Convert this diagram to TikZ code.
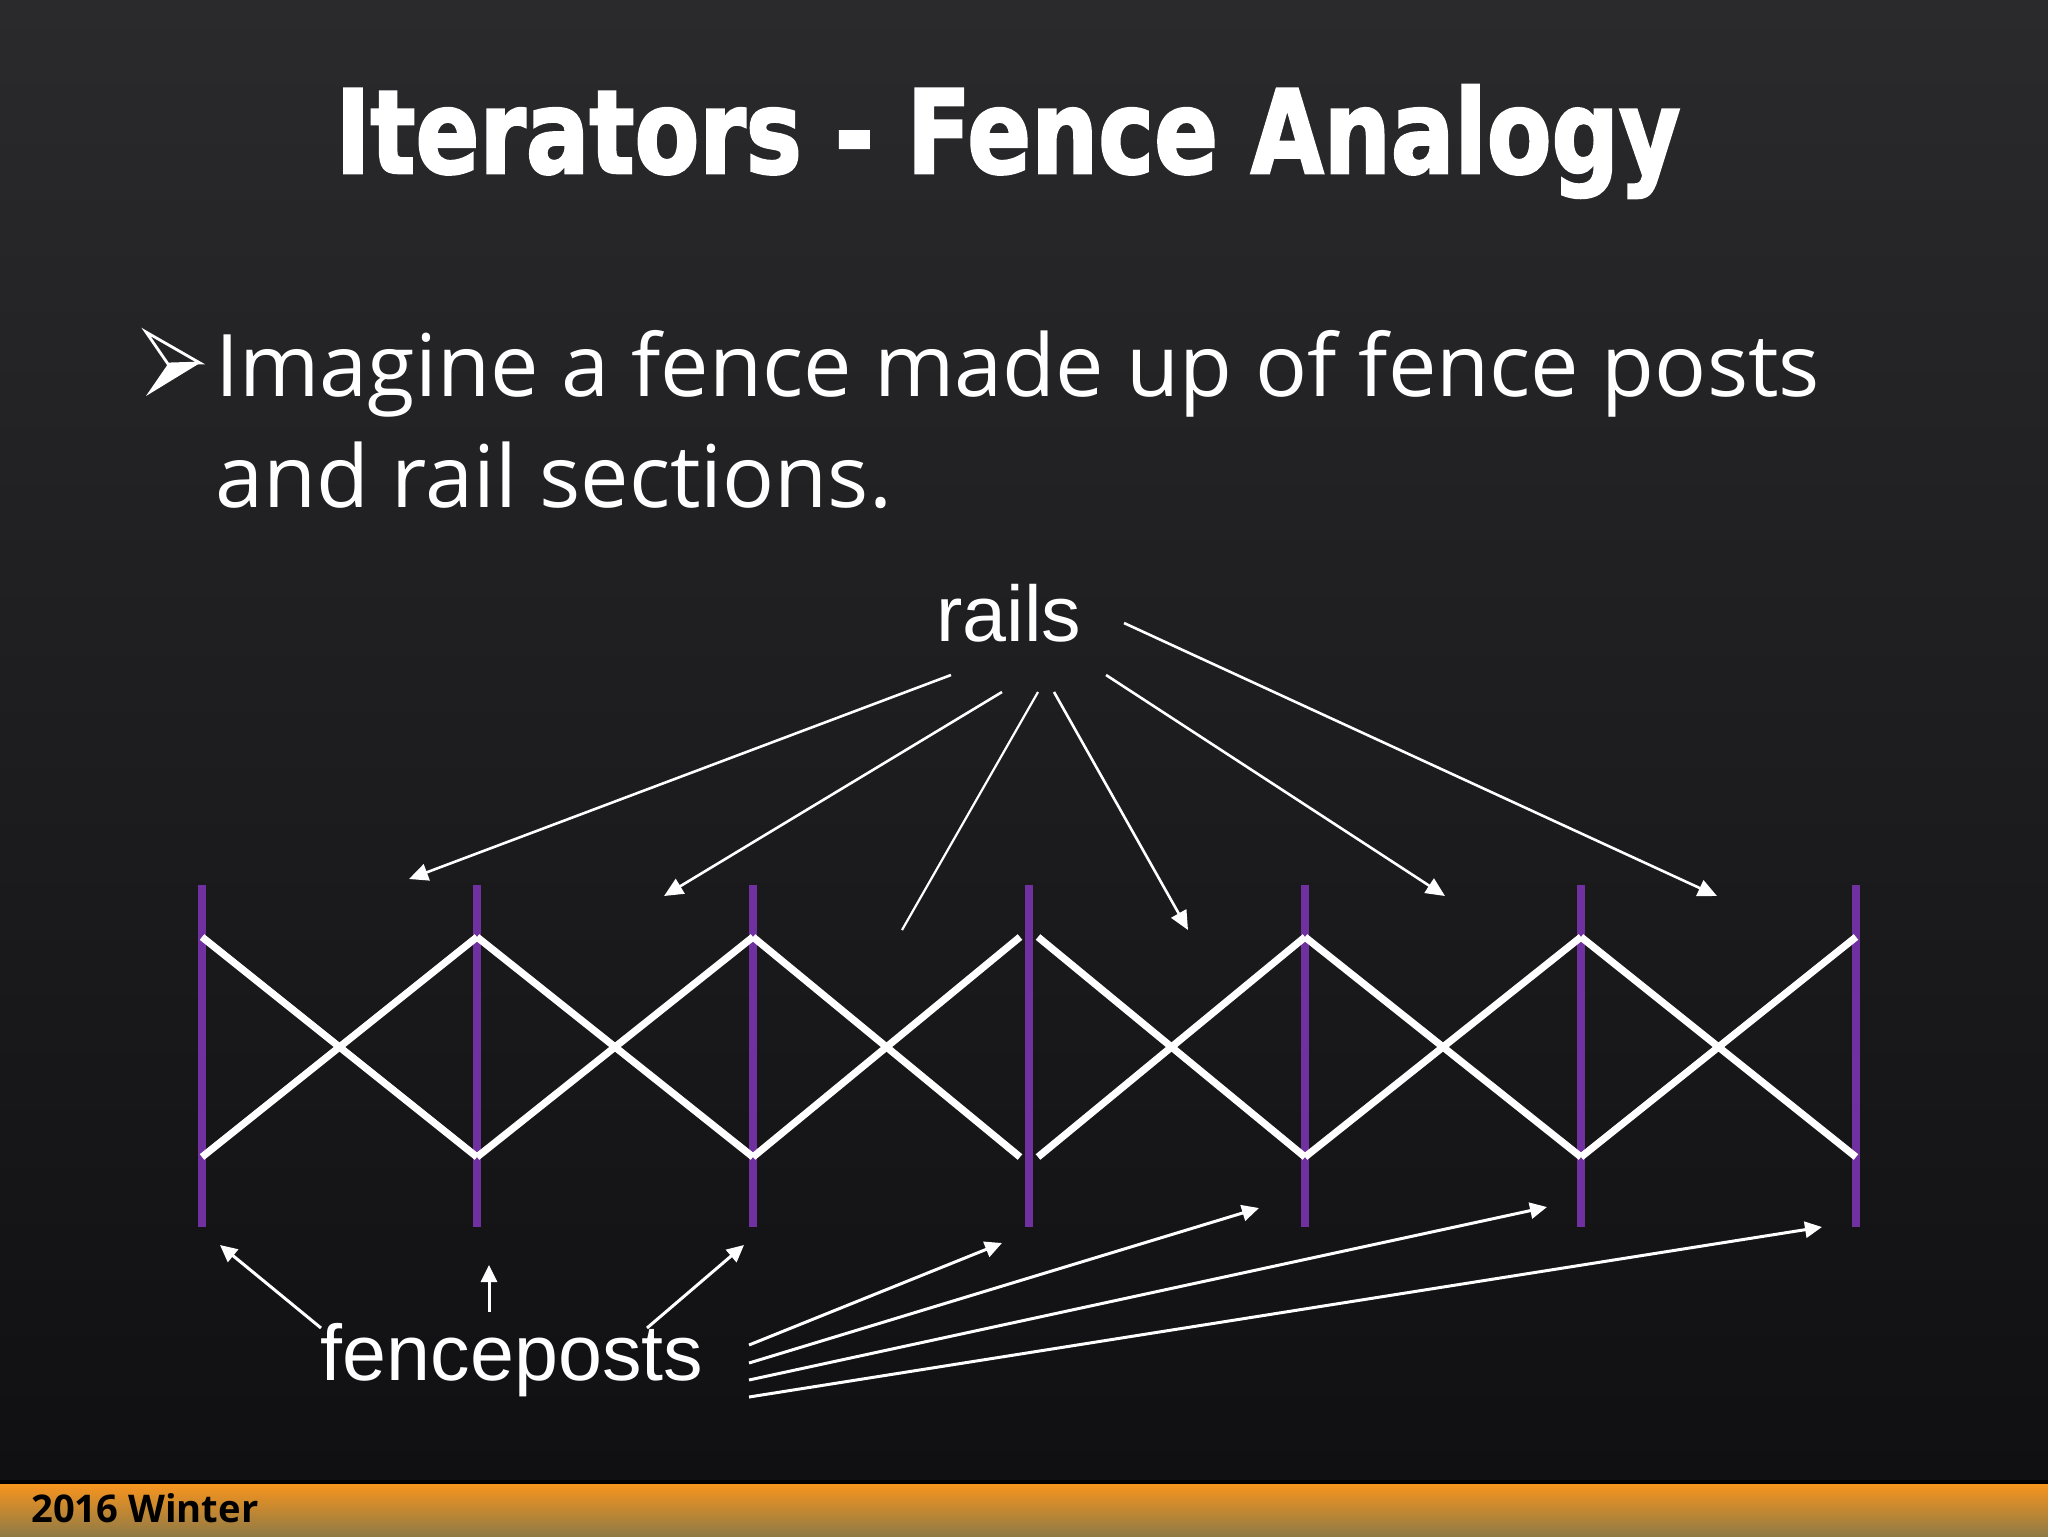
\documentclass[tikz,border=0pt]{standalone}
\usepackage{fontspec}
\usepackage{graphicx}
\usetikzlibrary{arrows.meta}
\newfontfamily\titlefont[BoldFont={DejaVu Sans Bold}, BoldFeatures={FakeBold=2.2}]{DejaVu Sans}
\newfontfamily\bodyfont{Open Sans}
\newfontfamily\labelfont{Liberation Sans}
\definecolor{bgtop}{HTML}{2A2A2D}
\definecolor{bgbot}{HTML}{0F0F12}
\definecolor{postpurple}{HTML}{7030A0}
\definecolor{barorange}{HTML}{F7941E}
\definecolor{barbrown}{HTML}{8F7A46}
\tikzset{
  fencepost/.style={postpurple, line width=4pt},
  railbar/.style={white, line width=3.6pt},
  railptr/.style={white, line width=1.3pt, -{Triangle[length=9.5pt,width=8.5pt]}},
  postptr/.style={white, line width=1.5pt, -{Triangle[length=8.5pt,width=8pt]}},
  biglabel/.style={white, font=\labelfont\fontsize{39.5}{45}\selectfont, inner sep=0pt, anchor=base},
  bodytext/.style={white, font=\bodyfont\fontsize{43.2}{50}\selectfont, inner sep=0pt, anchor=base west},
}
\begin{document}
\begin{tikzpicture}[x=0.5pt,y=-0.5pt]
\useasboundingbox (0,0) rectangle (2048,1536);
\shade[top color=bgtop, bottom color=bgbot] (0,0) rectangle (2048,1536);

% title
\node (title)[anchor=base west, inner sep=0pt, text=white] at (335,173)
  {\resizebox{672.5pt}{44pt}{\titlefont\bfseries Iterators - Fence Analogy}};

% bullet
\coordinate (btop) at (146,332);
\coordinate (btip) at (200,363);
\coordinate (bin) at (168,364);
\coordinate (bbot) at (146,396);
\draw[white, line width=1.4pt, line join=miter] (btop) -- (btip) -- (bin) -- cycle;
\fill[white] (bin) -- (btip) -- (bbot) -- cycle;
\node (line1)[bodytext] at (215,396) {Imagine a fence made up of fence posts};
\node (line2)[bodytext] at (215,507) {and rail sections.};

% fence posts
\foreach \i/\x in {1/202,2/477,3/753,4/1029,5/1305,6/1581,7/1856}{
  \coordinate (pt\i) at (\x,885);
  \coordinate (pb\i) at (\x,1227);
  \coordinate (rt\i) at (\x,937);
  \coordinate (rb\i) at (\x,1157);
  \draw[fencepost] (pt\i) -- (pb\i);
}
% rails
\foreach \a/\b in {1/2,2/3,5/6,6/7}{
  \draw[railbar] (rt\a) -- (rb\b);
  \draw[railbar] (rb\a) -- (rt\b);
}
\draw[railbar] (rt3) -- (1020,1157);
\draw[railbar] (rb3) -- (1020,937);
\draw[railbar] (1038,937) -- (rb5);
\draw[railbar] (1038,1157) -- (rt5);

% labels
\node (rails)[biglabel] at (1009,641) {rails};
\node (fenceposts)[biglabel] at (512,1380) {fenceposts};

% rails pointers
\coordinate (ra1) at (951,675);  \coordinate (re1) at (409,879);
\coordinate (ra2) at (1002,692); \coordinate (re2) at (664,896);
\coordinate (ra3) at (1038,692); \coordinate (re3) at (902,930);
\coordinate (ra4) at (1054,692); \coordinate (re4) at (1188,930);
\coordinate (ra5) at (1106,675); \coordinate (re5) at (1445,896);
\coordinate (ra6) at (1124,623); \coordinate (re6) at (1717,896);
\draw[railptr] (ra1) -- (re1);
\draw[railptr] (ra2) -- (re2);
\draw[white, line width=1.1pt] (ra3) -- (re3);
\draw[railptr] (ra4) -- (re4);
\draw[railptr] (ra5) -- (re5);
\draw[railptr] (ra6) -- (re6);

% fencepost pointers
\coordinate (fa1) at (321,1328); \coordinate (fe1) at (220,1245);
\coordinate (fa2) at (489,1312); \coordinate (fe2) at (489,1265);
\coordinate (fa3) at (647,1328); \coordinate (fe3) at (744,1245);
\coordinate (fa4) at (749,1345); \coordinate (fe4) at (1002,1243);
\coordinate (fa5) at (749,1363); \coordinate (fe5) at (1259,1208);
\coordinate (fa6) at (749,1380); \coordinate (fe6) at (1547,1207);
\coordinate (fa7) at (749,1397); \coordinate (fe7) at (1822,1227);
\foreach \i in {1,...,7}{ \draw[postptr] (fa\i) -- (fe\i); }

% bottom bar
\fill[black] (0,1480) rectangle (2048,1484);
\shade[top color=barorange, middle color=barorange!85!barbrown, bottom color=barbrown] (0,1484) rectangle (2048,1536);
\node (season)[anchor=base west, inner sep=0pt, text=black] at (31,1522)
  {\resizebox{113.5pt}{!}{\bodyfont\bfseries\fontsize{20}{24}\selectfont 2016 Winter}};
\end{tikzpicture}
\end{document}
